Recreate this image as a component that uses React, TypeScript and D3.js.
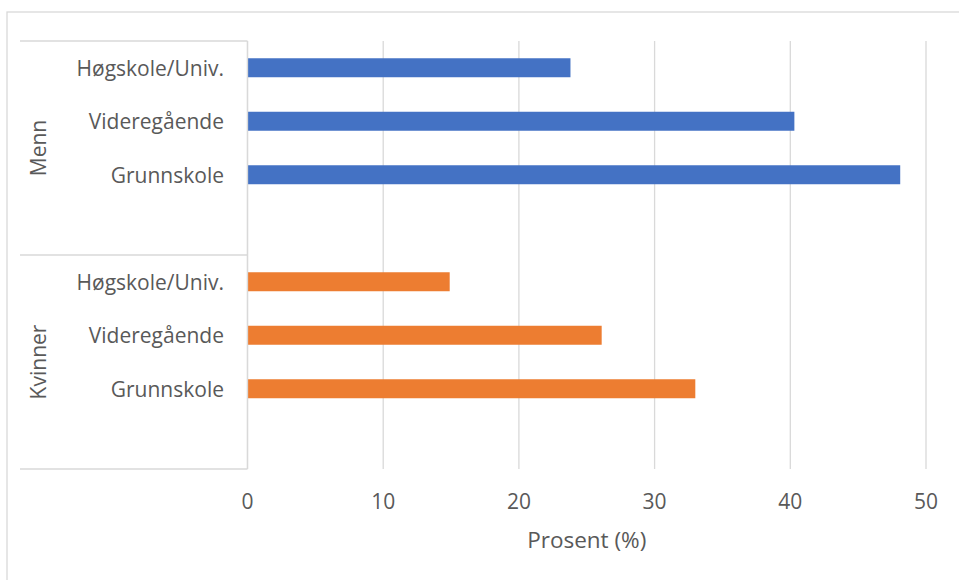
import React from "react";
import * as d3 from "d3";

const groups = ["Menn", "Kvinner"];
const levels = ["Høgskole/Univ.", "Videregående", "Grunnskole"];
const mennValues = [23.8, 40.3, 48.1];
const kvinnerValues = [14.9, 26.1, 33.0];
const xTicks = [0, 10, 20, 30, 40, 50];
const xTitle = "Prosent (%)";

const seriesByGroup: Record<string, number[]> = {
  Menn: mennValues,
  Kvinner: kvinnerValues,
};
const colorByGroup: Record<string, string> = {
  Menn: "#4472C4",
  Kvinner: "#ED7D31",
};

const W = 959;
const H = 580;
const FONT = "'Open Sans', Lato, sans-serif";
const TEXT = "#595959";
const LINE = "#D9D9D9";

export default function App() {
  const plotLeft = 247.5;
  const plotRight = 926;
  const plotTop = 41;
  const plotBottom = 469;
  const axisLeft = 20;

  const x = d3.scaleLinear().domain([0, 50]).range([plotLeft, plotRight]);

  // each group gets its three levels plus one empty slot below
  const slots: { key: string; group: string; level: string | null }[] = [];
  groups.forEach((g) => {
    levels.forEach((l) => slots.push({ key: `${g}|${l}`, group: g, level: l }));
    slots.push({ key: `${g}|blank`, group: g, level: null });
  });

  const y = d3
    .scaleBand<string>()
    .domain(slots.map((s) => s.key))
    .range([plotTop, plotBottom])
    .paddingInner(0)
    .paddingOuter(0);

  const groupScale = d3
    .scaleBand<string>()
    .domain(groups)
    .range([plotTop, plotBottom]);

  const barH = y.bandwidth() * 0.355;

  return (
    <svg
      width={W}
      height={H}
      style={{ position: "absolute", left: 0, top: 0, display: "block" }}
      fontFamily={FONT}
    >
      <rect x={0} y={0} width={W} height={H} fill="#fff" />
      {/* chart area border */}
      <rect x={7} y={12} width={W + 10} height={H + 10} fill="none" stroke={LINE} strokeWidth={1.3} />

      {/* vertical gridlines */}
      {xTicks.map((t) => (
        <line
          key={`g${t}`}
          x1={x(t)}
          x2={x(t)}
          y1={plotTop}
          y2={plotBottom}
          stroke={LINE}
          strokeWidth={1.3}
        />
      ))}

      {/* category axis dividers */}
      {[plotTop, groupScale(groups[1])!, plotBottom].map((yy, i) => (
        <line key={`d${i}`} x1={axisLeft} x2={plotLeft} y1={yy} y2={yy} stroke={LINE} strokeWidth={1.3} />
      ))}

      {/* bars */}
      {slots
        .filter((s) => s.level !== null)
        .map((s) => {
          const v = seriesByGroup[s.group][levels.indexOf(s.level!)];
          const cy = y(s.key)! + y.bandwidth() / 2;
          return (
            <rect
              key={s.key}
              x={x(0)}
              y={cy - barH / 2}
              width={x(v) - x(0)}
              height={barH}
              fill={colorByGroup[s.group]}
            />
          );
        })}

      {/* category labels */}
      {slots
        .filter((s) => s.level !== null)
        .map((s) => {
          const cy = y(s.key)! + y.bandwidth() / 2;
          return (
            <text
              key={`l${s.key}`}
              x={224}
              y={cy + 8}
              textAnchor="end"
              fontSize={21}
              fill={TEXT}
            >
              {s.level}
            </text>
          );
        })}

      {/* group labels */}
      {groups.map((g) => {
        const cy = groupScale(g)! + groupScale.bandwidth() / 2;
        return (
          <text
            key={`gl${g}`}
            transform={`translate(45.5,${cy}) rotate(-90)`}
            textAnchor="middle"
            fontSize={21}
            fill={TEXT}
          >
            {g}
          </text>
        );
      })}

      {/* value axis */}
      <line x1={plotLeft} x2={plotLeft} y1={plotTop} y2={plotBottom} stroke={LINE} strokeWidth={1.3} />
      {xTicks.map((t) => (
        <text key={`t${t}`} x={x(t)} y={509} textAnchor="middle" fontSize={21} fill={TEXT}>
          {t}
        </text>
      ))}
      <text
        x={(plotLeft + plotRight) / 2}
        y={548}
        textAnchor="middle"
        fontSize={22.5}
        fill={TEXT}
      >
        {xTitle}
      </text>
    </svg>
  );
}
